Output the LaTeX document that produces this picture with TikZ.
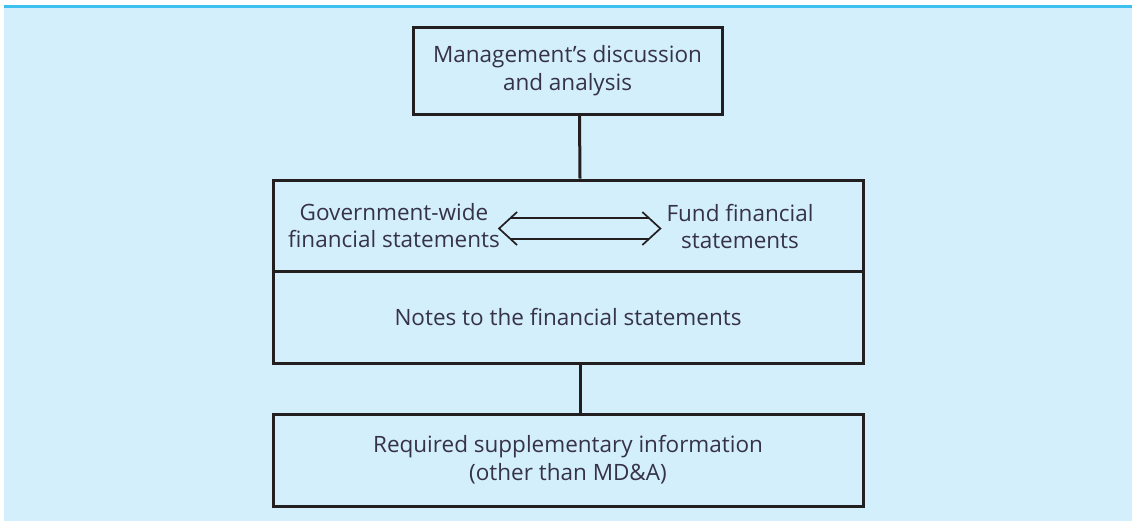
\documentclass[tikz,border=0pt]{standalone}
\usepackage{fontspec}
\setmainfont{Open Sans}
\usetikzlibrary{arrows.meta,positioning}
\definecolor{bgblue}{HTML}{D4EFFC}
\definecolor{topline}{HTML}{3DBFEF}
\definecolor{txt}{HTML}{35324A}
\definecolor{ink}{HTML}{231F20}
\tikzset{
  box/.style={draw=ink, line width=3pt, minimum width=590pt, minimum height=91pt, inner sep=0pt, text=txt, align=center, font=\fontsize{22.5}{28}\selectfont},
  lbl/.style={inner sep=0pt, text=txt, align=center, font=\fontsize{22.5}{27}\selectfont},
  conn/.style={draw=ink, line width=3pt},
  thinarrow/.style={draw=ink, line width=1.7pt, line join=miter}
}
\begin{document}
\begin{tikzpicture}[x=1pt,y=-1pt]
\useasboundingbox (0,0) rectangle (1132,523);
\fill[bgblue] (4,7) rectangle (1132,521);
\draw[topline, line width=3pt] (4,6.5) -- (1132,6.5);
\node[box, minimum width=309pt, minimum height=87pt] (mda) at (567.5,70.5) {Management’s discussion\\and analysis};
\node[box] (fin) at (568,225.5) {};
\node[box, minimum height=92pt] (notes) at (568,317) {Notes to the financial statements};
\node[box, minimum height=92pt] (rsi) at (568,460) {Required supplementary information\\(other than MD\&A)};
\node[lbl] (gw) at (394,225.5) {Government-wide\\financial statements};
\node[lbl] (fund) at (740,226) {Fund financial\\statements};
\draw[conn] ([xshift=12pt]mda.south) -- ([xshift=12pt]fin.north);
\draw[conn] ([xshift=12pt]notes.south) -- ([xshift=12pt]rsi.north);
% double-lined open arrow between the two statement labels
\coordinate (aL) at ([xshift=-1pt,yshift=-3pt]gw.east);
\coordinate (aR) at ([xshift=-6pt,yshift=-2.5pt]fund.west);
\draw[thinarrow] ([xshift=18pt,yshift=16.5pt]aL) -- (aL) -- ([xshift=18pt,yshift=-16.5pt]aL);
\draw[thinarrow] ([xshift=-18pt,yshift=16.5pt]aR) -- (aR) -- ([xshift=-18pt,yshift=-16.5pt]aR);
\draw[thinarrow] ([xshift=11pt,yshift=10.5pt]aL) -- ([xshift=-11pt,yshift=10.5pt]aR);
\draw[thinarrow] ([xshift=11pt,yshift=-10.5pt]aL) -- ([xshift=-11pt,yshift=-10.5pt]aR);
\end{tikzpicture}
\end{document}
